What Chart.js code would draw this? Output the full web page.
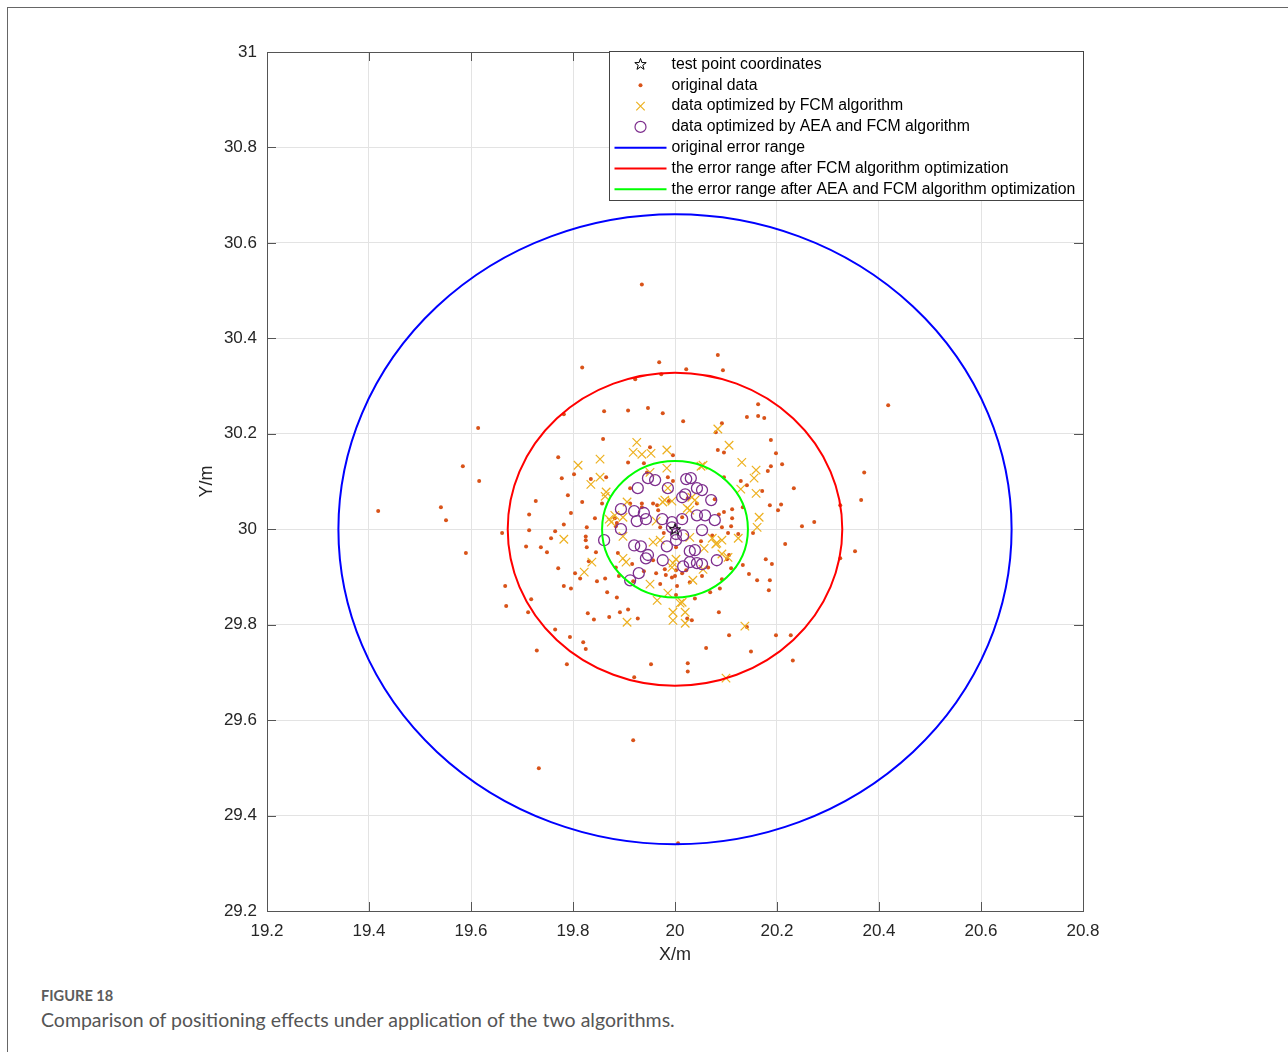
<!DOCTYPE html>
<html>
<head>
<meta charset="utf-8">
<title>Figure 18</title>
<script src="https://cdn.jsdelivr.net/npm/chart.js@4.4.1/dist/chart.umd.min.js"></script>
<style>
  html, body { margin: 0; padding: 0; background: #fff; }
  body { width: 1288px; height: 1052px; position: relative; overflow: hidden; }
  #frame { position: absolute; left: 7px; top: 7px; width: 1290px; height: 1060px; border: 1px solid #666; box-sizing: border-box; }
  #wrap { position: absolute; left: 0; top: 0; width: 1288px; height: 980px; }
  .fig-label { position: absolute; left: 41px; top: 987px; font: 700 14.6px Lato, sans-serif; color: #5c5c5c; }
  .fig-caption { position: absolute; left: 41px; top: 1008px; font: 19.5px Lato, sans-serif; color: #555; }
</style>
</head>
<body>
<div id="frame"></div>
<div id="wrap"><canvas id="posChart"></canvas></div>
<div class="fig-label">FIGURE 18</div>
<div class="fig-caption">Comparison of positioning effects under application of the two algorithms.</div>

<script>
// axis ranges (m)
const xRange = [19.2, 20.8];
const yRange = [29.2, 31];
const tickStep = 0.2;

// test point
const testPoint = [20, 30];

// radii of the three error ranges (m): original, FCM, AEA + FCM
const errorRadii = [0.66, 0.328, 0.143];

const legendLabels = [
  "test point coordinates",
  "original data",
  "data optimized by FCM algorithm",
  "data optimized by AEA and FCM algorithm",
  "original error range",
  "the error range after FCM algorithm optimization",
  "the error range after AEA and FCM algorithm optimization"
];

// original positioning results [x, y]
const originalData = [
  [19.935,30.513],[19.818,30.339],[19.969,30.350],[19.973,30.325],[19.922,30.314],[20.022,30.335],[20.084,30.365],[20.094,30.333],[20.418,30.260],[19.614,30.212],
  [19.782,30.241],[19.861,30.247],[19.908,30.249],[19.947,30.254],[19.976,30.243],[20.016,30.226],[20.092,30.222],[20.141,30.235],[20.163,30.262],[20.163,30.237],
  [20.175,30.233],[20.080,30.203],[20.188,30.187],[19.859,30.189],[19.951,30.172],[20.084,30.166],[20.096,30.161],[20.198,30.159],[19.996,30.155],[19.771,30.151],
  [19.584,30.132],[19.908,30.140],[19.939,30.138],[20.188,30.132],[20.182,30.122],[20.210,30.136],[20.371,30.119],[19.802,30.115],[19.778,30.107],[19.835,30.105],
  [19.865,30.109],[19.616,30.101],[19.945,30.119],[19.986,30.109],[19.996,30.101],[19.912,30.086],[20.096,30.109],[20.129,30.101],[20.141,30.092],[20.233,30.086],
  [20.171,30.080],[19.790,30.071],[19.727,30.059],[19.818,30.057],[19.935,30.054],[19.965,30.050],[19.988,30.059],[20.025,30.065],[20.043,30.054],[20.365,30.061],
  [20.133,30.046],[20.186,30.050],[20.208,30.052],[20.202,30.040],[20.324,30.050],[20.112,30.042],[20.096,30.036],[20.112,30.023],[20.086,30.031],[20.078,30.063],
  [19.857,30.054],[19.912,30.054],[19.935,30.046],[19.957,30.054],[19.967,30.040],[19.714,30.031],[19.796,30.034],[19.418,30.038],[19.541,30.046],[19.551,30.019],
  [19.843,30.023],[19.882,30.023],[19.886,30.013],[19.782,30.010],[19.714,29.998],[19.661,29.992],[19.765,29.996],[19.827,30.004],[19.884,30.006],[19.971,30.004],
  [19.978,29.992],[20.014,30.025],[20.249,30.006],[20.273,30.015],[20.110,30.006],[20.092,30.004],[20.104,29.992],[20.153,29.992],[20.073,29.987],[20.124,29.990],
  [19.757,29.981],[19.825,29.985],[19.825,29.977],[20.216,29.969],[20.002,29.962],[20.051,29.975],[19.708,29.964],[19.737,29.962],[19.749,29.952],[19.827,29.962],
  [19.845,29.952],[19.888,29.950],[19.590,29.950],[20.353,29.954],[20.324,29.939],[20.178,29.937],[20.190,29.927],[20.133,29.925],[20.110,29.918],[20.145,29.906],
  [20.106,29.946],[20.102,29.937],[19.831,29.933],[19.957,29.935],[19.771,29.918],[19.884,29.920],[19.916,29.927],[19.980,29.916],[20.000,29.902],[20.065,29.920],
  [20.002,29.914],[20.022,29.914],[20.014,29.908],[19.804,29.908],[19.814,29.897],[19.863,29.897],[19.847,29.891],[19.890,29.902],[19.918,29.891],[19.939,29.912],
  [19.963,29.908],[19.982,29.904],[19.994,29.899],[20.161,29.893],[20.186,29.893],[20.092,29.895],[20.053,29.902],[20.029,29.889],[19.667,29.881],[19.782,29.881],
  [19.796,29.876],[19.867,29.868],[19.971,29.885],[20.004,29.881],[20.184,29.872],[20.088,29.876],[20.069,29.868],[20.039,29.855],[20.002,29.862],[19.886,29.857],
  [19.718,29.853],[19.669,29.839],[19.712,29.826],[19.908,29.832],[19.829,29.824],[19.841,29.811],[19.871,29.816],[19.927,29.813],[19.892,29.826],[20.086,29.826],
  [20.033,29.809],[20.024,29.813],[20.141,29.795],[20.106,29.778],[20.198,29.778],[20.227,29.778],[19.765,29.790],[19.794,29.774],[19.820,29.763],[19.825,29.749],
  [19.729,29.746],[20.061,29.751],[20.149,29.744],[20.231,29.725],[20.025,29.719],[20.025,29.702],[19.788,29.717],[19.953,29.717],[19.920,29.690],[19.918,29.558],
  [19.733,29.499],[20.006,29.342]
];

// after FCM
const fcmData = [
  [19.925,30.182],[19.918,30.161],[19.935,30.157],[19.953,30.159],[19.984,30.166],[19.853,30.147],[19.810,30.134],[20.106,30.176],[20.131,30.140],[20.159,30.124],
  [20.155,30.107],[20.055,30.134],[19.984,30.128],[19.951,30.119],[19.986,30.086],[20.129,30.084],[20.159,30.075],[19.853,30.109],[19.865,30.078],[19.863,30.069],
  [19.906,30.057],[19.980,30.061],[19.994,30.059],[20.033,30.067],[20.039,30.061],[20.024,30.044],[20.029,30.040],[19.882,30.029],[19.898,30.025],[19.875,30.015],
  [19.898,29.985],[20.029,29.983],[20.073,29.981],[20.082,29.971],[20.092,29.977],[19.957,29.973],[19.971,29.977],[20.057,29.960],[19.898,29.939],[19.904,29.931],
  [19.837,29.931],[20.002,29.937],[19.994,29.920],[19.951,29.885],[19.986,29.866],[19.965,29.851],[20.010,29.845],[19.996,29.826],[20.020,29.826],[19.906,29.805],
  [20.020,29.803],[20.137,29.797],[20.035,29.893],[20.161,30.004],[20.104,29.941],[20.084,30.210],[20.051,30.132],[20.165,30.025],[19.782,29.979],[19.822,29.910],
  [19.996,29.809],[19.996,29.929],[20.124,29.981],[20.080,29.969],[20.092,29.948],[20.055,29.916],[20.014,29.847],[20.100,29.688],[19.835,30.094],[19.871,30.021],
  [19.963,30.017],[19.976,30.057]
];

// after AEA + FCM
const aeaData = [
  [19.947,30.107],[19.961,30.103],[19.927,30.086],[19.986,30.086],[20.022,30.105],[20.031,30.107],[20.043,30.086],[20.053,30.082],[20.071,30.061],[20.020,30.073],
  [20.014,30.067],[19.894,30.042],[19.920,30.038],[19.939,30.034],[19.943,30.021],[19.925,30.017],[19.975,30.021],[19.994,30.015],[20.014,30.021],[20.043,30.029],
  [20.059,30.029],[20.078,30.019],[19.894,30.000],[19.861,29.977],[19.994,30.004],[20.002,29.990],[20.016,29.987],[20.053,29.998],[19.920,29.966],[19.933,29.964],
  [19.984,29.964],[20.002,29.977],[20.029,29.954],[20.039,29.956],[19.947,29.946],[19.943,29.939],[19.976,29.935],[20.029,29.931],[20.043,29.929],[20.053,29.927],
  [20.082,29.935],[20.016,29.922],[19.929,29.908],[19.912,29.893]
];

const markerColors = ["#000000", "#D95319", "#EDB120", "#7E2F8E"];
const rangeColors = ["#0000FF", "#FF0000", "#00FF00"];

const axisFont = '"Liberation Sans", Arial, Helvetica, sans-serif';
const toXY = arr => arr.map(p => ({ x: p[0], y: p[1] }));
const fmt = v => String(Math.round(v * 10) / 10);

// five-pointed star outline (MATLAB pentagram)
function pentagram(g, x, y, r, color) {
  g.beginPath();
  for (let k = 0; k < 10; k++) {
    const rr = k % 2 ? r * 0.4 : r;
    const a = -Math.PI / 2 + k * Math.PI / 5;
    g.lineTo(x + rr * Math.cos(a), y + rr * Math.sin(a));
  }
  g.closePath();
  g.strokeStyle = color;
  g.lineWidth = 1;
  g.stroke();
}
const starIcon = document.createElement("canvas");
starIcon.width = starIcon.height = 14;
pentagram(starIcon.getContext("2d"), 7, 7.5, 6, markerColors[0]);

// box, inward ticks, error circles, legend
const matlabLook = {
  id: "matlabLook",
  afterDatasetsDraw(chart) {
    const { ctx, chartArea: a, scales: { x, y } } = chart;
    const cx = x.getPixelForValue(testPoint[0]);
    const cy = y.getPixelForValue(testPoint[1]);
    ctx.save();
    errorRadii.forEach((r, i) => {
      const rx = x.getPixelForValue(testPoint[0] + r) - cx;
      const ry = cy - y.getPixelForValue(testPoint[1] + r);
      ctx.beginPath();
      ctx.ellipse(cx, cy, rx, ry, 0, 0, Math.PI * 2);
      ctx.strokeStyle = rangeColors[i];
      ctx.lineWidth = 2;
      ctx.stroke();
    });

    // box + ticks
    ctx.strokeStyle = "#555";
    ctx.lineWidth = 1;
    ctx.strokeRect(Math.round(a.left) + 0.5, Math.round(a.top) + 0.5, Math.round(a.width), Math.round(a.height));
    const tl = 9;
    ctx.beginPath();
    x.ticks.forEach(t => {
      const px = Math.round(x.getPixelForValue(t.value)) + 0.5;
      ctx.moveTo(px, a.bottom); ctx.lineTo(px, a.bottom - tl);
      ctx.moveTo(px, a.top); ctx.lineTo(px, a.top + tl);
    });
    y.ticks.forEach(t => {
      const py = Math.round(y.getPixelForValue(t.value)) + 0.5;
      ctx.moveTo(a.left, py); ctx.lineTo(a.left + tl, py);
      ctx.moveTo(a.right, py); ctx.lineTo(a.right - tl, py);
    });
    ctx.stroke();

    // legend (top right, inside axes)
    const lw = 474, lh = 149;
    const lx = Math.round(a.right) - lw + 0.5, ly = Math.round(a.top) - 1 + 0.5;
    ctx.fillStyle = "#fff";
    ctx.fillRect(lx, ly, lw, lh);
    ctx.strokeStyle = "#444";
    ctx.strokeRect(lx, ly, lw, lh);
    ctx.font = "15.8px " + axisFont;
    ctx.textBaseline = "middle";
    ctx.textAlign = "left";
    legendLabels.forEach((label, i) => {
      const ry = ly + 13 + i * 20.8;
      const mx = lx + 31;
      ctx.lineWidth = 1.2;
      if (i === 0) {
        pentagram(ctx, mx, ry, 6, markerColors[0]);
      } else if (i === 1) {
        ctx.beginPath(); ctx.arc(mx, ry, 2, 0, Math.PI * 2);
        ctx.fillStyle = markerColors[1]; ctx.fill();
      } else if (i === 2) {
        ctx.beginPath();
        ctx.moveTo(mx - 4.2, ry - 4.2); ctx.lineTo(mx + 4.2, ry + 4.2);
        ctx.moveTo(mx + 4.2, ry - 4.2); ctx.lineTo(mx - 4.2, ry + 4.2);
        ctx.strokeStyle = markerColors[2]; ctx.stroke();
      } else if (i === 3) {
        ctx.beginPath(); ctx.arc(mx, ry, 5.5, 0, Math.PI * 2);
        ctx.strokeStyle = markerColors[3]; ctx.stroke();
      } else {
        ctx.beginPath(); ctx.moveTo(lx + 5, ry); ctx.lineTo(lx + 57, ry);
        ctx.strokeStyle = rangeColors[i - 4]; ctx.lineWidth = 2; ctx.stroke();
      }
      ctx.fillStyle = "#000";
      ctx.fillText(label, lx + 62, ry);
    });
    ctx.restore();
  }
};

new Chart(document.getElementById("posChart"), {
  type: "scatter",
  data: {
    datasets: [
      { label: legendLabels[0], data: toXY([testPoint]), pointStyle: starIcon, pointRadius: 7, order: 0 },
      { label: legendLabels[1], data: toXY(originalData), pointStyle: "circle", pointRadius: 2,
        backgroundColor: markerColors[1], borderColor: markerColors[1], borderWidth: 0, order: 3 },
      { label: legendLabels[2], data: toXY(fcmData), pointStyle: "crossRot", pointRadius: 6,
        borderColor: markerColors[2], backgroundColor: markerColors[2], borderWidth: 1.2, order: 2 },
      { label: legendLabels[3], data: toXY(aeaData), pointStyle: "circle", pointRadius: 5.5,
        borderColor: markerColors[3], backgroundColor: "rgba(0,0,0,0)", borderWidth: 1.3, order: 1 }
    ]
  },
  options: {
    responsive: true,
    maintainAspectRatio: false,
    animation: false,
    events: [],
    layout: { padding: { left: 192, top: 52, right: 205, bottom: 10 } },
    plugins: { legend: { display: false }, tooltip: { enabled: false } },
    scales: {
      x: {
        type: "linear", min: xRange[0], max: xRange[1],
        ticks: { stepSize: tickStep, callback: fmt, color: "#262626", padding: 10, font: { family: axisFont, size: 17 } },
        grid: { color: "#e3e3e3", drawTicks: false },
        border: { display: false },
        title: { display: true, text: "X/m", color: "#262626", font: { family: axisFont, size: 18 } },
        afterFit: s => { s.height = 59; }
      },
      y: {
        type: "linear", min: yRange[0], max: yRange[1],
        ticks: { stepSize: tickStep, callback: fmt, color: "#262626", padding: 10, font: { family: axisFont, size: 17 } },
        grid: { color: "#e3e3e3", drawTicks: false },
        border: { display: false },
        title: { display: true, text: "Y/m", color: "#262626", font: { family: axisFont, size: 18 } },
        afterFit: s => { s.width = 75; }
      }
    }
  },
  plugins: [matlabLook]
});
</script>
</body>
</html>
